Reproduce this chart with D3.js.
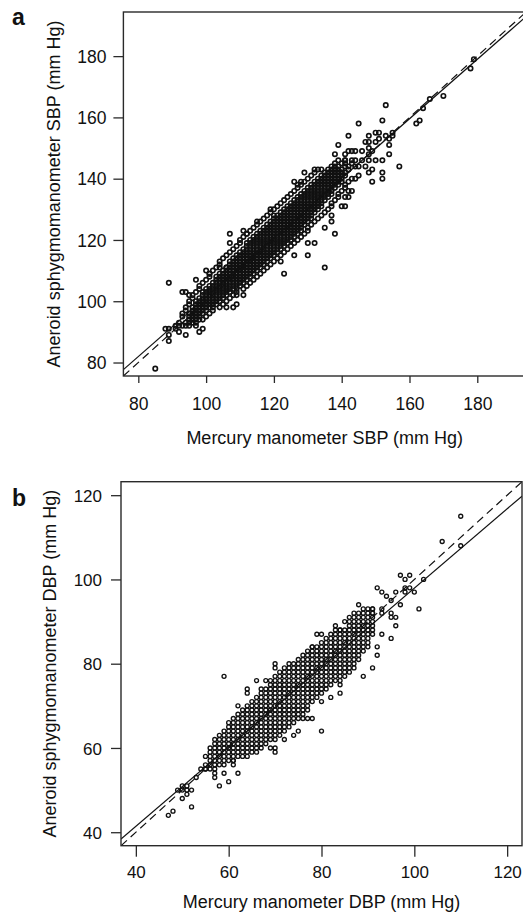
<!DOCTYPE html>
<html><head><meta charset="utf-8">
<script src="https://cdn.jsdelivr.net/npm/d3@7"></script>
<style>
body{margin:0;background:#fff}
svg{display:block}
text{font-family:"Liberation Sans",Arial,Helvetica,sans-serif;fill:#111}
</style>
</head><body>
<svg id="chart" width="523" height="916"></svg>
<script>
// ---------- data ----------
const sbpTicks = [80, 100, 120, 140, 160, 180];
const dbpTicks = [40, 60, 80, 100, 120];
const sbpDomain = [75.6, 194.4];
const dbpDomain = [36.8, 123.2];
const sbpFit = [4.36, 0.970];   // solid regression line: intercept, slope
const dbpFit = [3.73, 0.942];
const identityLine = [0, 1];    // dashed line of equality

// SBP: rows of [aneroid value, mercury values]
const sbpRows = [
 [92,[91,93,94,95,97]],
 [93,[92,94,95,96]],
 [94,[95,96,97,99]],
 [95,[93,95,96,97,98,100]],
 [96,[93,95,96,97,98,99,101]],
 [97,[94,96,97,98,99,100,102]],
 [98,[94,96,97,98,99,100,101,102,104]],
 [99,[95,97,98,99,100,101,102,103,105]],
 [100,[95,97,98,99,100,101,102,103,104,106]],
 [101,[96,98,99,100,101,102,103,104,105,107]],
 [102,[96,99,100,101,102,103,104,105,106,108]],
 [103,[97,99,100,101,102,103,104,105,106,107,109]],
 [104,[98,100,101,102,103,104,105,106,107,108,109,111]],
 [105,[98,101,102,103,104,105,106,107,108,109,110,112]],
 [106,[99,102,103,104,105,106,107,108,109,110,111,113]],
 [107,[100,103,104,105,106,107,108,109,110,111,112,114]],
 [108,[101,103,104,105,106,107,108,109,110,111,112,113,115]],
 [109,[101,104,105,106,107,108,109,110,111,112,113,114,116]],
 [110,[102,105,106,107,108,109,110,111,112,113,114,115,117]],
 [111,[103,106,107,108,109,110,111,112,113,114,115,116,118]],
 [112,[104,107,108,109,110,111,112,113,114,115,116,117,119]],
 [113,[104,107,108,109,110,111,112,113,114,115,116,117,118,120]],
 [114,[105,108,109,110,111,112,113,114,115,116,117,118,119,121]],
 [115,[106,109,110,111,112,113,114,115,116,117,118,119,120,122]],
 [116,[107,110,111,112,113,114,115,116,117,118,119,120,121,123]],
 [117,[108,111,112,113,114,115,116,117,118,119,120,121,122,124]],
 [118,[109,112,113,114,115,116,117,118,119,120,121,122,123,125]],
 [119,[110,112,113,114,115,116,117,118,119,120,121,122,123,124,126]],
 [120,[110,113,114,115,116,117,118,119,120,121,122,123,124,125,127]],
 [121,[111,114,115,116,117,118,119,120,121,122,123,124,125,126,128]],
 [122,[112,115,116,117,118,119,120,121,122,123,124,125,126,127,129]],
 [123,[113,116,117,118,119,120,121,122,123,124,125,126,127,128,130]],
 [124,[114,117,118,119,120,121,122,123,124,125,126,127,128,130]],
 [125,[115,118,119,120,121,122,123,124,125,126,127,128,129,131]],
 [126,[116,119,120,121,122,123,124,125,126,127,128,129,130,132]],
 [127,[117,120,121,122,123,124,125,126,127,128,129,130,131,133]],
 [128,[118,121,122,123,124,125,126,127,128,129,130,131,134]],
 [129,[119,122,123,124,125,126,127,128,129,130,131,132,135]],
 [130,[120,123,124,125,126,127,128,129,130,131,132,133,136]],
 [131,[121,124,125,126,127,128,129,130,131,132,133,134,137]],
 [132,[122,125,126,127,128,129,130,131,132,133,134,137]],
 [133,[123,126,127,128,129,130,131,132,133,134,135,138]],
 [134,[124,127,128,129,130,131,132,133,134,135,136,139]],
 [135,[125,128,129,130,131,132,133,134,135,136,137,139]],
 [136,[126,129,130,131,132,133,134,135,136,137,140]],
 [137,[127,130,131,132,133,134,135,136,137,138,141]],
 [138,[128,131,132,133,134,135,136,137,138,139,141]],
 [139,[129,132,133,134,135,136,137,138,139,140,142]],
 [140,[130,133,134,135,136,137,138,139,140,143]],
 [141,[131,134,135,136,137,138,139,140,141]],
 [142,[132,135,136,137,138,139,140,141]],
 [143,[136,137,138,139,140,142]],
 [144,[137,138,139,141,142]],
 [145,[138,140,141,143]],
 [146,[139,141,143]]
];
// SBP: scattered points [mercury, aneroid]
const sbpExtra = [
 [85,78],[89,106],[88,91],[89,91],[89,89],[89,87],[91,91],[92,92],[92,90],[94,89],
 [93,103],[94,103],[95,102],[97,107],[98,90],[99,91],[97,93],[98,94],[100,110],[101,109],
 [104,111],[106,111],[108,98],[109,99],[106,98],[109,102],[111,102],[123,109],[126,115],[130,115],
 [135,111],[130,119],[132,119],[135,124],[138,122],[137,126],[137,128],[140,131],[141,131],[122,113],
 [120,128],[119,130],[112,122],[107,122],[107,119],[115,126],[111,123],[129,142],[132,143],[133,143],
 [126,139],[127,138],[128,139],[134,143],[138,148],[139,151],[141,148],[142,149],[143,149],[144,149],
 [146,149],[142,154],[147,152],[148,154],[150,155],[151,155],[148,152],[150,152],[151,153],[153,154],
 [154,153],[155,155],[155,154],[154,151],[154,148],[148,148],[148,150],[149,149],[141,146],[144,146],
 [146,146],[148,146],[150,146],[152,146],[144,144],[145,144],[147,144],[149,143],[148,142],[152,142],
 [152,140],[157,144],[149,139],[138,143],[140,142],[142,136],[143,136],[141,134],[142,134],[145,158],
 [152,159],[153,164],[162,158],[163,159],[164,163],[166,166],[170,167],[178,176],[179,179],[144,140],[145,141]
];

// DBP: rows of [aneroid value, mercury values]
const dbpRows = [
 [55,[55,56,57]],
 [56,[55,56,57,58,59]],
 [57,[56,57,58,59,60,61]],
 [58,[56,57,58,59,60,61,62,63,64]],
 [59,[56,57,58,59,60,61,62,63,64,65,66]],
 [60,[56,57,58,59,60,61,62,63,64,65,66,67]],
 [61,[57,58,59,60,61,62,63,64,65,66,67,68]],
 [62,[57,58,59,60,61,62,63,64,65,66,67,68,69,70]],
 [63,[58,59,60,61,62,63,64,65,66,67,68,69,70,71]],
 [64,[59,60,61,62,63,64,65,66,67,68,69,70,71,72]],
 [65,[60,61,62,63,64,65,66,67,68,69,70,71,72,73]],
 [66,[61,62,63,64,65,66,67,68,69,70,71,72,73,74]],
 [67,[61,62,63,64,65,66,67,68,69,70,71,72,73,74,75,76]],
 [68,[62,63,64,65,66,67,68,69,70,71,72,73,74,75,76]],
 [69,[63,64,65,66,67,68,69,70,71,72,73,74,75,76,77]],
 [70,[64,65,66,67,68,69,70,71,72,73,74,75,76,77]],
 [71,[65,66,67,68,69,70,71,72,73,74,75,76,77,78]],
 [72,[66,67,68,69,70,71,72,73,74,75,76,77,78,79]],
 [73,[67,68,69,70,71,72,73,74,75,76,77,78,79,80]],
 [74,[68,69,70,71,72,73,74,75,76,77,78,79,80,81]],
 [75,[69,70,71,72,73,74,75,76,77,78,79,80,81,82]],
 [76,[69,70,71,72,73,74,75,76,77,78,79,80,81,82,83,84]],
 [77,[70,71,72,73,74,75,76,77,78,79,80,81,82,83,84,85]],
 [78,[71,72,73,74,75,76,77,78,79,80,81,82,83,84,85,86]],
 [79,[72,73,74,75,76,77,78,79,80,81,82,83,84,85,86,87]],
 [80,[73,74,75,76,77,78,79,80,81,82,83,84,85,86,87]],
 [81,[75,76,77,78,79,80,81,82,83,84,85,86,87,88]],
 [82,[76,77,78,79,80,81,82,83,84,85,86,87,88]],
 [83,[77,78,79,80,81,82,83,84,85,86,87,88,89]],
 [84,[78,79,80,81,82,83,84,85,86,87,88,89]],
 [85,[80,81,82,83,84,85,86,87,88,89,90]],
 [86,[81,82,83,84,85,86,87,88,89,90]],
 [87,[83,84,85,86,87,88,89,90]],
 [88,[83,84,85,86,87,88,89,90,91]],
 [89,[86,87,88,89,90,91]],
 [90,[85,86,87,88,89,90,91]],
 [91,[86,87,88,89,90,91]],
 [92,[87,88,89,90,91]],
 [93,[89,90,91]]
];
// DBP: scattered points [mercury, aneroid]
const dbpExtra = [
 [47,44],[48,45],[52,46],[50,48],[51,49],[49,50],[50,50],[51,50],[52,50],[50,51],
 [51,51],[53,53],[55,55],[57,53],[57,54],[58,51],[59,54],[60,52],[62,54],[61,56],
 [61,57],[55,58],[54,55],[59,77],[60,66],[62,70],[64,74],[64,73],[66,76],[68,76],
 [67,74],[70,80],[70,79],[69,60],[70,60],[70,59],[72,62],[74,63],[75,64],[80,64],
 [77,67],[78,67],[80,71],[82,72],[84,75],[84,73],[89,77],[91,79],[90,84],[92,84],
 [92,82],[78,84],[79,87],[80,87],[82,87],[83,89],[84,88],[91,87],[93,87],[95,86],
 [96,89],[96,91],[95,91],[95,92],[91,93],[93,93],[91,92],[93,92],[88,94],[97,94],
 [101,93],[95,95],[94,96],[93,97],[92,98],[96,97],[98,97],[99,98],[100,97],[98,98],
 [98,100],[97,101],[99,101],[102,100],[106,109],[110,108],[110,115]
];

// ---------- drawing ----------
const svg = d3.select("#chart");
const FONT = '"Liberation Sans",Arial,Helvetica,sans-serif';

function panel(c) {
  const x = d3.scaleLinear().domain(c.domain).range([c.left, c.right]);
  const y = d3.scaleLinear().domain(c.domain).range([c.bottom, c.top]);
  const g = svg.append("g");

  const clipId = "clip-" + c.letter;
  svg.append("clipPath").attr("id", clipId)
    .append("rect").attr("x", c.left).attr("y", c.top)
    .attr("width", c.right - c.left).attr("height", c.bottom - c.top);

  // points
  const pts = c.rows.flatMap(([yy, xs]) => xs.map(xx => [xx, yy])).concat(c.extra);
  g.append("g").selectAll("circle").data(pts).join("circle")
    .attr("cx", d => x(d[0])).attr("cy", d => y(d[1]))
    .attr("r", c.r).attr("fill", "none")
    .attr("stroke", "#111").attr("stroke-width", c.sw);

  // lines
  const lg = g.append("g").attr("clip-path", `url(#${clipId})`);
  const lineEnds = fit => c.domain.map(v => [v, fit[0] + fit[1] * v]);
  const line = d3.line().x(d => x(d[0])).y(d => y(d[1]));
  lg.append("path").attr("d", line(lineEnds(identityLine)))
    .attr("fill", "none").attr("stroke", "#111").attr("stroke-width", 1.2)
    .attr("stroke-dasharray", "8,5");
  lg.append("path").attr("d", line(lineEnds(c.fit)))
    .attr("fill", "none").attr("stroke", "#111").attr("stroke-width", 1.2);

  // box
  g.append("rect").attr("x", c.left).attr("y", c.top)
    .attr("width", c.right - c.left).attr("height", c.bottom - c.top)
    .attr("fill", "none").attr("stroke", "#2a2a2a").attr("stroke-width", 1.4);

  // axes
  const xa = g.append("g").attr("transform", `translate(0,${c.bottom})`)
    .call(d3.axisBottom(x).tickValues(c.ticks).tickSize(c.xTickLen).tickFormat(d3.format("d")));
  xa.select(".domain").remove();
  xa.selectAll("line").attr("stroke", "#2a2a2a").attr("stroke-width", 1.3);
  xa.selectAll("text").attr("y", c.xLabelBase).attr("dy", null)
    .style("font-family", FONT).style("font-size", c.tickFont + "px").attr("fill", "#111");

  const ya = g.append("g").attr("transform", `translate(${c.left},0)`)
    .call(d3.axisLeft(y).tickValues(c.ticks).tickSize(c.yTickLen).tickPadding(c.yPad).tickFormat(d3.format("d")));
  ya.select(".domain").remove();
  ya.selectAll("line").attr("stroke", "#2a2a2a").attr("stroke-width", 1.3);
  ya.selectAll("text").attr("dy", "0.36em")
    .style("font-family", FONT).style("font-size", c.tickFont + "px").attr("fill", "#111");

  // titles
  g.append("text").attr("x", (c.left + c.right) / 2).attr("y", c.xTitleBase)
    .attr("text-anchor", "middle").style("font-size", "18px").text(c.xTitle);
  g.append("text")
    .attr("transform", `translate(${c.yTitleX},${(c.top + c.bottom) / 2}) rotate(-90)`)
    .attr("text-anchor", "middle").style("font-size", "18px").text(c.yTitle);
  g.append("text").attr("x", c.letterX).attr("y", c.letterY)
    .style("font-size", "23px").style("font-weight", "bold").text(c.letter);
}

panel({
  letter: "a", letterX: 12, letterY: 25,
  left: 123.4, right: 526.1, top: 12, bottom: 376,
  domain: sbpDomain, ticks: sbpTicks, rows: sbpRows, extra: sbpExtra, fit: sbpFit,
  r: 2.2, sw: 1.65,
  xTickLen: 7, yTickLen: 10, yPad: 7, xLabelBase: 33.5, tickFont: 17.5,
  xTitle: "Mercury manometer SBP (mm Hg)", xTitleBase: 443.5,
  yTitle: "Aneroid sphygmomanometer SBP (mm Hg)", yTitleX: 60
});

panel({
  letter: "b", letterX: 12, letterY: 505.5,
  left: 121, right: 522, top: 481.7, bottom: 845.7,
  domain: dbpDomain, ticks: dbpTicks, rows: dbpRows, extra: dbpExtra, fit: dbpFit,
  r: 2.0, sw: 1.35,
  xTickLen: 11, yTickLen: 10, yPad: 9, xLabelBase: 32.5, tickFont: 17,
  xTitle: "Mercury manometer DBP (mm Hg)", xTitleBase: 907.5,
  yTitle: "Aneroid sphygmomanometer DBP (mm Hg)", yTitleX: 55.5
});
</script>
</body></html>
